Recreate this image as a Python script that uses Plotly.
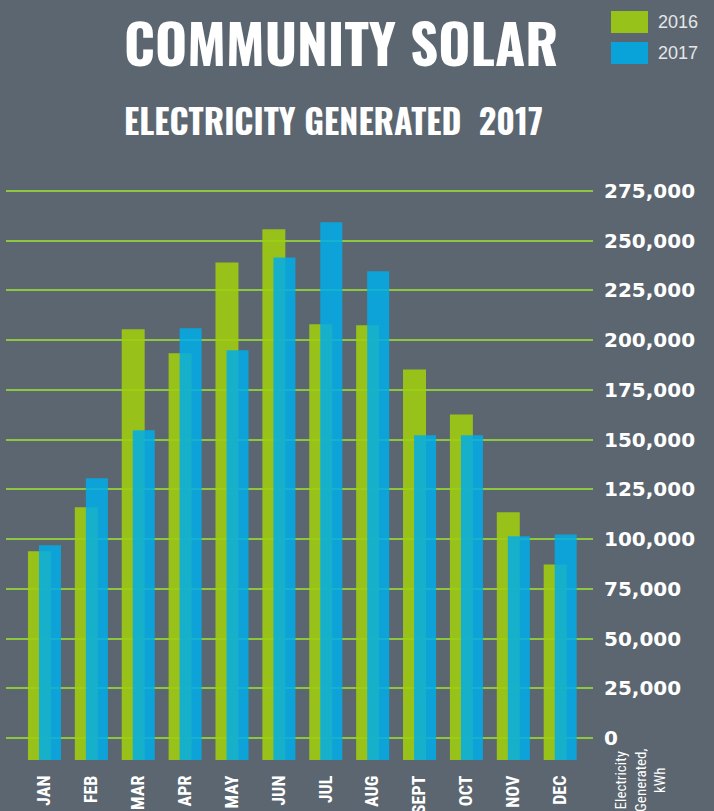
import plotly.graph_objects as go

months = ["JAN", "FEB", "MAR", "APR", "MAY", "JUN", "JUL", "AUG", "SEPT", "OCT", "NOV", "DEC"]
gen_2016 = [93900, 116000, 205500, 193400, 239100, 255700, 208000, 207500, 185300, 162700, 113500, 87300]
gen_2017 = [96900, 130600, 154700, 206000, 194900, 241600, 259300, 234600, 152200, 152200, 101400, 102400]
tick_vals = [0, 25000, 50000, 75000, 100000, 125000, 150000, 175000, 200000, 225000, 250000, 275000]
tick_text = ["0", "25,000", "50,000", "75,000", "100,000", "125,000", "150,000", "175,000",
             "200,000", "225,000", "250,000", "275,000"]

BG = "#5b6670"
GREEN = "#97c21a"
GREEN_BAR = "rgba(158,204,16,0.9)"
BLUE = "rgba(0,173,234,0.85)"
BASE = -11000  # bars start slightly below the zero line

x = list(range(len(months)))

fig = go.Figure()
fig.add_trace(go.Bar(
    x=x, y=[v - BASE for v in gen_2016], base=BASE, name="2016",
    marker=dict(color=GREEN_BAR, line=dict(width=0)),
    width=0.49, offset=-0.352,
    hovertemplate="%{customdata}<extra>2016</extra>", customdata=gen_2016,
))
fig.add_trace(go.Bar(
    x=x, y=[v - BASE for v in gen_2017], base=BASE, name="2017",
    marker=dict(color=BLUE, line=dict(width=0)),
    width=0.47, offset=-0.117,
    hovertemplate="%{customdata}<extra>2017</extra>", customdata=gen_2017,
))

W, H = 714, 811
L, R, T, B = 6, 121, 181, 49
pw, ph = W - L - R, H - T - B

def px_to_paper(px, py):
    return (px - L) / pw, (H - B - py) / ph

def ann(text, px, py, xanchor="center", yanchor="middle", **kw):
    xp, yp = px_to_paper(px, py)
    return dict(text=text, x=xp, y=yp, xref="paper", yref="paper", showarrow=False,
                xanchor=xanchor, yanchor=yanchor, **kw)

def rect(px0, py0, px1, py1, color):
    x0, y0 = px_to_paper(px0, py0)
    x1, y1 = px_to_paper(px1, py1)
    return dict(type="rect", xref="paper", yref="paper", x0=x0, x1=x1, y0=y0, y1=y1,
                fillcolor=color, line=dict(width=0))

fig.update_layout(
    width=W, height=H,
    margin=dict(l=L, r=R, t=T, b=B, autoexpand=False),
    paper_bgcolor=BG, plot_bgcolor=BG,
    barmode="overlay",
    showlegend=False,
    xaxis=dict(
        range=[-0.82, 11.70], automargin=False,
        tickmode="array", tickvals=x, ticktext=months,
        tickangle=-90, ticks="", showgrid=False, zeroline=False, showline=False,
        tickfont=dict(family="Roboto Condensed, Liberation Sans, sans-serif", size=18, color="white", weight="bold"),
        ticklabelstandoff=9,
    ),
    yaxis=dict(
        range=[-12000, 280000], side="right", automargin=False,
        tickmode="array", tickvals=tick_vals, ticktext=tick_text,
        showgrid=True, gridcolor="#8dc63f", gridwidth=2,
        zeroline=False, showline=False, ticks="",
        tickfont=dict(family="DejaVu Sans, sans-serif", size=20, color="white", weight="bold"),
        ticklabelstandoff=10,
    ),
    annotations=[
        ann("<b>COMMUNITY SOLAR</b>", 341, 41, font=dict(family="Oswald", size=55, color="white")),
        ann("<b>ELECTRICITY GENERATED  2017</b>", 333, 120, font=dict(family="Oswald", size=34, color="white")),
        ann("Electricity<br>Generated,<br>kWh", 640, 780, textangle=-90, align="center",
            font=dict(family="Roboto Condensed", size=15, color="white")),
        ann("2016", 656, 22, xanchor="left",
            font=dict(family="Liberation Sans, Arial, sans-serif", size=18, color="#e6e6e6")),
        ann("2017", 656, 53, xanchor="left",
            font=dict(family="Liberation Sans, Arial, sans-serif", size=18, color="#e6e6e6")),
    ],
    shapes=[
        rect(611, 11, 648, 33, GREEN),
        rect(611, 42, 648, 64, "#0aa3d9"),
    ],
)

fig.write_html("out.html")
